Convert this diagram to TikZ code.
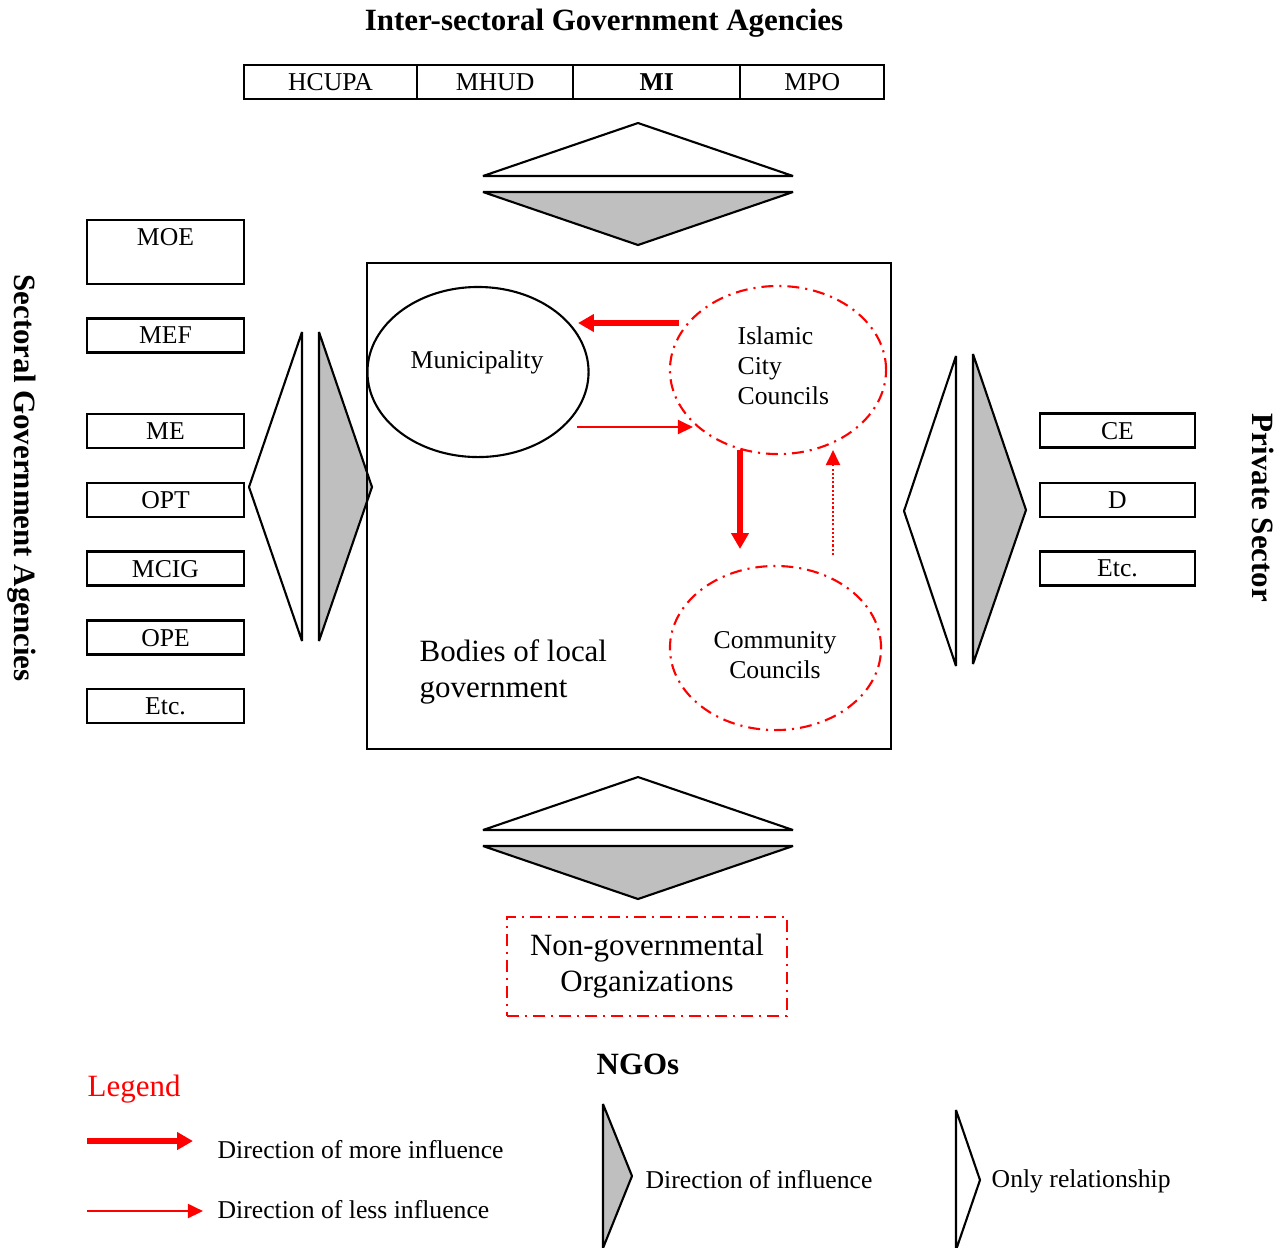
\documentclass[tikz,border=0pt]{standalone}
\usepackage{fontspec}
\setmainfont{Liberation Serif}
\usetikzlibrary{shapes.geometric, arrows.meta, positioning}

\begin{document}
\begin{tikzpicture}[x=0.01cm, y=-0.01cm,
  smalltext/.style={inner sep=0pt, font=\fontsize{7.3}{8.5}\selectfont},
  bigtext/.style={inner sep=0pt, font=\fontsize{8.8}{10.4}\selectfont},
  heading/.style={inner sep=0pt, font=\fontsize{8.8}{10.4}\selectfont\bfseries},
  agency/.style={draw, line width=0.6pt, inner sep=0pt, outer sep=0pt, minimum width=1.57cm, minimum height=0.34cm, text depth=0pt, font=\fontsize{7.3}{8.5}\selectfont},
  council/.style={draw=red, ellipse, line width=0.6pt, inner sep=0pt, dash pattern=on 3.4pt off 1.7pt on 0.6pt off 1.7pt},
  wedge/.style={draw, line width=0.6pt, line join=bevel, fill=white},
  influence/.style={wedge, fill=black!25},
  more/.style={->, red, line width=1.7pt, >={Triangle[length=4.5pt, width=4.8pt]}},
  less/.style={->, red, line width=0.6pt, >={Triangle[length=4.3pt, width=4pt]}},
  faint/.style={less, dash pattern=on 0.6pt off 0.6pt}]
\useasboundingbox (0,0) rectangle (1282,1247);

% Inter-sectoral agencies:
\node[heading] (intertitle) at (604,23) {Inter-sectoral Government Agencies};
\node[agency, minimum width=1.73cm] (hcupa) at (330.5,82) {HCUPA};
\node[agency, minimum width=1.56cm, right=0pt of hcupa] (mhud) {MHUD};
\node[agency, minimum width=1.67cm, right=0pt of mhud] (mi) {\textbf{MI}};
\node[agency, minimum width=1.44cm, right=0pt of mi] (mpo) {MPO};
\draw[wedge] (483,176) -- (638,123) -- (793,176) -- cycle;
\draw[influence] (483,192) -- (793,192) -- (638,245) -- cycle;

% Sectoral agencies:
\node[heading, rotate=-90] (sectitle) at (22,478) {Sectoral Government Agencies};
\node[agency, minimum height=0.64cm, align=center] (moe) at (165.5,252) {MOE\\ \strut};
\node[agency] (mef) at (165.5,335.5) {MEF};
\node[agency] (me) at (165.5,431) {ME};
\node[agency] (opt) at (165.5,500) {OPT};
\node[agency] (mcig) at (165.5,568.5) {MCIG};
\node[agency] (ope) at (165.5,637.5) {OPE};
\node[agency] (secetc) at (165.5,706) {Etc.};
\draw[wedge] (302,332) -- (249,487) -- (302,641) -- cycle;
\draw[influence] (319,332) -- (372,487) -- (319,641) -- cycle;

% Private sector:
\node[heading, rotate=-90] (privtitle) at (1263,508) {Private Sector};
\node[agency, minimum width=1.55cm] (ce) at (1117.5,430.5) {CE};
\node[agency, minimum width=1.55cm] (d) at (1117.5,500) {D};
\node[agency, minimum width=1.55cm] (privetc) at (1117.5,568.5) {Etc.};
\draw[wedge] (956,356) -- (904,511) -- (956,666) -- cycle;
\draw[influence] (973,354) -- (1026,510) -- (973,664) -- cycle;

% Bodies of local government:
\node[draw, line width=0.6pt, minimum width=5.24cm, minimum height=4.86cm, inner sep=0pt] (lgov) at (629,506) {};
\node[bigtext, align=left, anchor=west] (bodies) at (419,672) {Bodies of local\\government};
\node[draw, ellipse, line width=0.6pt, inner sep=0pt, minimum width=2.21cm, minimum height=1.70cm] (muni) at (478,372) {};
\node[smalltext] (munitext) at (477,362) {Municipality};
\node[council, minimum width=2.16cm, minimum height=1.68cm] (icc) at (778,370) {};
\node[smalltext, align=left, anchor=west] (icctext) at (737,366) {Islamic\\City\\Councils};
\node[council, minimum width=2.11cm, minimum height=1.64cm] (cc) at (775.5,648) {};
\node[smalltext, align=center] (cctext) at (775,655) {Community\\Councils};
\coordinate (iccL) at (679,323);
\coordinate (muniR) at (578,323);
\coordinate (muniO) at (577,427);
\coordinate (iccI) at (693,427);
\coordinate (iccB) at (740,450);
\coordinate (ccT) at (740,549);
\coordinate (ccO) at (833,555);
\coordinate (iccU) at (833,450);
\draw[more] (iccL) -- (muniR);
\draw[less] (muniO) -- (iccI);
\draw[more] (iccB) -- (ccT);
\draw[faint] (ccO) -- (iccU);

% NGOs:
\draw[wedge] (483,830) -- (638,777) -- (793,830) -- cycle;
\draw[influence] (483,846) -- (793,846) -- (638,899) -- cycle;
\node[draw=red, line width=0.6pt, dash pattern=on 3.4pt off 1.7pt on 0.6pt off 1.7pt, minimum width=2.80cm, minimum height=0.99cm, align=center, font=\fontsize{8.8}{10.2}\selectfont] (ngo) at (647,966.5) {Non-governmental\\Organizations};
\node[heading] (ngotitle) at (638,1064) {NGOs};

% Legend:
\node[bigtext, text=red, anchor=west] (legend) at (87,1089) {Legend};
\coordinate (moreS) at (87,1141);
\coordinate (moreE) at (193,1141);
\coordinate (lessS) at (87,1211);
\coordinate (lessE) at (203,1211);
\draw[more] (moreS) -- (moreE);
\draw[less] (lessS) -- (lessE);
\node[smalltext, anchor=west] (moretext) at (217,1150) {Direction of more influence};
\node[smalltext, anchor=west] (lesstext) at (217,1210) {Direction of less influence};
\draw[influence] (603,1104) -- (632,1176) -- (603,1248) -- cycle;
\node[smalltext, anchor=west] (inftext) at (645,1180) {Direction of influence};
\draw[wedge] (956,1110) -- (980,1180) -- (956,1250) -- cycle;
\node[smalltext, anchor=west] (reltext) at (991,1181) {Only relationship};
\end{tikzpicture}
\end{document}
